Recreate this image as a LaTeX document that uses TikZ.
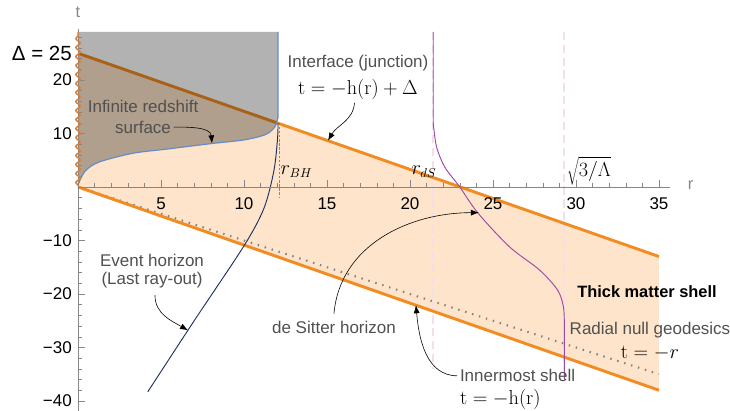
\documentclass[tikz,border=0pt]{standalone}
\usepackage[no-math]{fontspec}
\setmainfont{Liberation Sans}
\usepackage{xcolor}
\usepackage{tikz}
\usetikzlibrary{arrows.meta,positioning,calc,decorations.pathmorphing}

\definecolor{shellorange}{RGB}{241,139,34}
\definecolor{shellpeach}{RGB}{253,228,203}
\definecolor{wavybrown}{RGB}{214,128,62}
\definecolor{redshiftblue}{RGB}{100,140,200}
\definecolor{horizonnavy}{RGB}{32,48,96}
\definecolor{dspurple}{RGB}{158,72,168}
\definecolor{dspink}{RGB}{244,222,234}
\definecolor{axisgray}{RGB}{135,135,135}
\definecolor{notegray}{RGB}{80,80,80}

\begin{document}
\begin{tikzpicture}[x=0.498cm,y=0.1605cm,
  ticklbl/.style={font=\fontsize{14.5}{16}\selectfont,inner sep=0pt},
  note/.style={font=\fontsize{14.5}{16}\selectfont,text=notegray,inner sep=0pt},
  eqn/.style={font=\fontsize{16}{18}\selectfont,inner sep=0pt},
  pointer/.style={-{Latex[length=2.4mm,width=1.8mm]},line width=0.5pt},
  shellline/.style={shellorange,line width=2.5pt}]
\useasboundingbox (-4.7,-41.87) rectangle (39.28,34.95);

\fill[shellpeach] (0,25) -- (35,-13) -- (35,-38) -- (0,0) -- cycle;
\draw[dspink,line width=1.8pt,dash pattern=on 7pt off 4pt] (21.4,29) -- (21.4,-34);
\draw[dspink,line width=1.8pt,dash pattern=on 7pt off 4pt] (29.3,29) -- (29.3,-34);
\draw[gray,line width=1.8pt,dash pattern=on 1.2pt off 5pt] (0,0) -- (35,-35);
\draw[shellline] (0,25) -- (35,-13);
\draw[shellline] (0,0) -- (35,-38);

\fill[black,opacity=0.3] plot[smooth] coordinates {(0,0.3) (0.15,1.5) (0.5,3.2) (1.3,4.7) (3.3,6.3) (5.4,7.1) (8,8.1) (10,8.8) (11.3,9.8) (11.85,11.2) (12.05,13)} -- (12.05,29) -- (0,29) -- cycle;
\draw[redshiftblue,line width=1pt] plot[smooth] coordinates {(0,0.3) (0.15,1.5) (0.5,3.2) (1.3,4.7) (3.3,6.3) (5.4,7.1) (8,8.1) (10,8.8) (11.3,9.8) (11.85,11.2) (12.05,13)} -- (12.05,29);
\draw[axisgray,line width=0.4pt,dash pattern=on 2pt off 1.5pt] (12.1,12) -- (12.1,-1.9);
\draw[horizonnavy,line width=0.8pt] plot[smooth] coordinates {(4.2,-38.3) (7,-25) (10,-11) (11.2,-4) (11.8,3) (12.02,9) (12.05,12)};
\draw[dspurple,line width=0.8pt] (21.4,29) -- plot[smooth] coordinates {(21.4,12) (21.6,7.5) (22.1,3.7) (23,0) (24.1,-4.9) (26,-11.2) (27.8,-15.5) (28.9,-19.3) (29.25,-22.5) (29.3,-26)} -- (29.3,-36);

\draw[axisgray,line width=0.6pt] (0,-41.87) -- (0,29.5);
\draw[axisgray,line width=0.6pt] (0,0) -- (35.66,0);
\foreach \x in {1,...,35}
    \draw[axisgray] (\x,0) -- (\x,0.75);
\foreach \x in {5,10,...,35}
    \draw[axisgray] (\x,0) -- (\x,1.3);
\foreach \y in {-40,-38,...,28}
    \draw[axisgray] (0,\y) -- (0.24,\y);
\foreach \y in {-40,-30,...,20}
    \draw[axisgray] (0,\y) -- (0.42,\y);
\draw[wavybrown,line width=1.3pt,decorate,decoration={snake,amplitude=0.065cm,segment length=0.27cm}] (0,0.3) -- (0,29);

\foreach \x in {5,10,...,35}
    \node[ticklbl] (rlbl\x) at (\x,-3.1) {\x};
\foreach \y in {10,20}
    \node[ticklbl,anchor=east] (tlbl\y) at (-0.36,\y) {\y};
\foreach \y in {10,20,30,40}
    \node[ticklbl,anchor=east] (tlbln\y) at (-0.36,-\y) {−\y};
\node[anchor=east,inner sep=0pt,font=\fontsize{17.5}{19}\selectfont] (deltalbl) at (-0.36,25) {Δ = 25};
\node[text=axisgray,font=\fontsize{14}{16}\selectfont] (taxis) at (0,32.6) {t};
\node[text=axisgray,font=\fontsize{14}{16}\selectfont] (raxis) at (36.9,0.4) {r};

\node[eqn,anchor=west] (rbh) at (12.2,2.8) {$r_{BH}$};
\node[eqn,anchor=east] (rds) at (21.6,2.8) {$r_{dS}$};
\node[eqn,anchor=west] (dsroot) at (29.45,3.1) {$\sqrt{3/\Lambda}$};

\node[note] (ifcnote) at (16.87,23.2) {Interface (junction)};
\node[eqn] (ifcmath) at (16.87,18.3) {$\mathrm{t}=-\mathrm{h}(\mathrm{r})+\Delta$};
\coordinate (ifcpt) at (15.06,8.65);
\draw[pointer] ([xshift=-3pt,yshift=-3pt]ifcmath.south) to[out=-95,in=60] (ifcpt);

\node[note] (rsnote) at (3.92,15.0) {Infinite redshift};
\node[note] (rsnote2) at (3.92,11.2) {surface};
\coordinate (rspt) at (8.07,8.15);
\draw[pointer] ([xshift=2pt]rsnote2.east) to[out=0,in=95] (rspt);

\node[note] (ehnote) at (4.46,-13.8) {Event horizon};
\node[note] (ehnote2) at (4.46,-17.4) {(Last ray-out)};
\coordinate (ehpt) at (6.63,-26.8);
\draw[pointer] ([xshift=2.5pt,yshift=-6pt]ehnote2.south) to[out=-90,in=150] (ehpt);

\node[note] (dsnote) at (15.42,-26.2) {de Sitter horizon};
\coordinate (dspt) at (24.15,-4.8);
\draw[pointer] ([yshift=6pt]dsnote.north) to[out=85,in=180] (dspt);

\node[note,anchor=west] (innote) at (23.0,-35.3) {Innermost shell};
\node[eqn,anchor=west] (inmath) at (23.0,-39.7) {$\mathrm{t}=-\mathrm{h}(\mathrm{r})$};
\coordinate (inpt) at (20.36,-22.1);
\draw[pointer] ([xshift=-2pt]innote.west) to[out=180,in=-85] (inpt);

\node[font=\bfseries\fontsize{14}{16}\selectfont] (thick) at (34.28,-19.6) {Thick matter shell};
\node[note] (nullnote) at (34.46,-26.7) {Radial null geodesics};
\node[eqn] (nullmath) at (34.46,-31.0) {$\mathrm{t}=-r$};
\end{tikzpicture}
\end{document}
